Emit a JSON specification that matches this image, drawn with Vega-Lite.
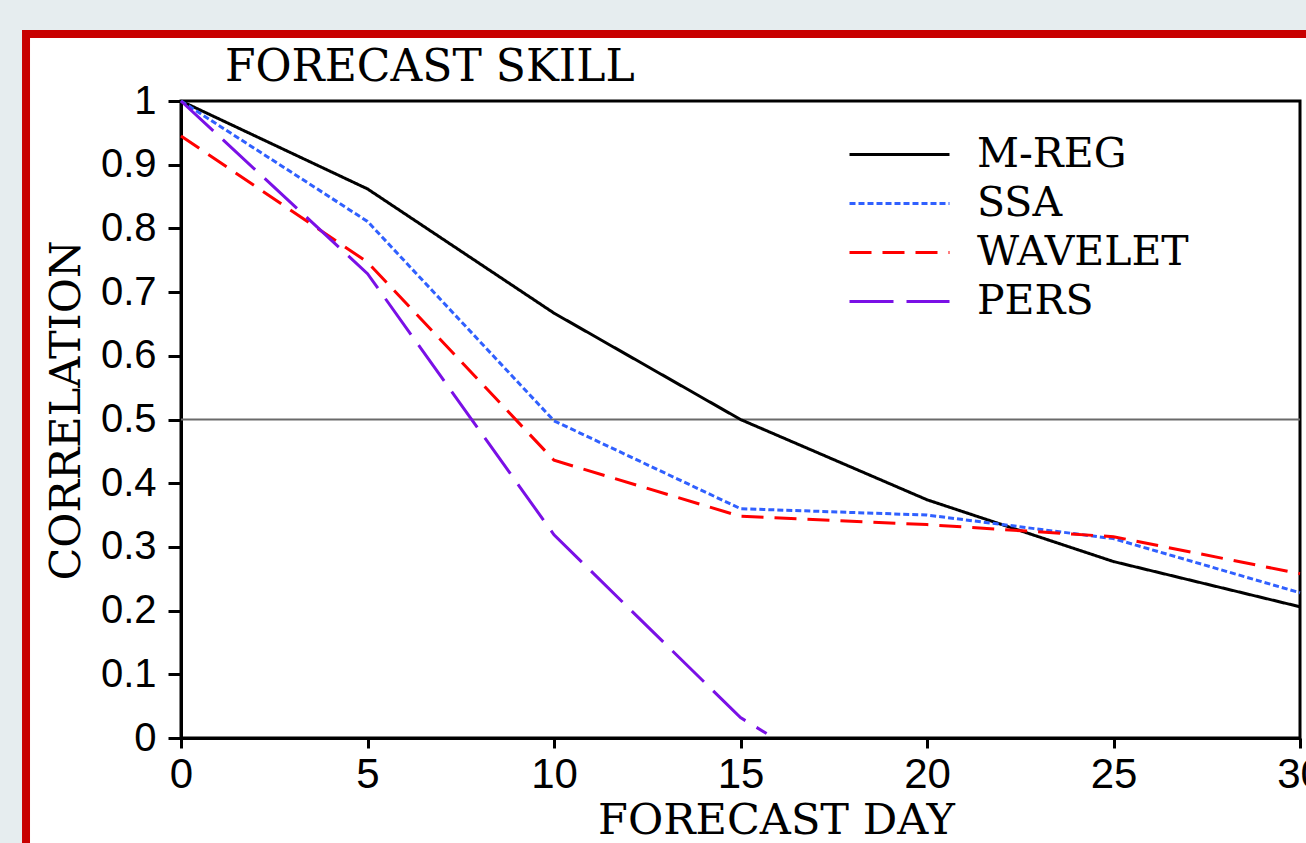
{
  "$schema": "https://vega.github.io/schema/vega-lite/v6.json",
  "width": 1119,
  "height": 637,
  "autosize": "none",
  "padding": {"left": 181, "top": 101, "right": 6, "bottom": 105},
  "background": "white",
  "title": {"text": "FORECAST SKILL", "anchor": "start", "frame": "group", "dx": 44, "dy": 155, "offset": 0, "baseline": "alphabetic", "font": "DejaVu Serif", "fontSize": 44, "fontWeight": "normal", "color": "black"},
  "layer": [
    {
      "data": {"values": [{}]},
      "mark": {"type": "rect", "fill": null, "stroke": "#e6edef", "strokeWidth": 60, "clip": false},
      "encoding": {
        "x": {"datum": -4.853, "type": "quantitative", "scale": {"domain": [0, 30], "nice": false}},
        "x2": {"datum": 40},
        "y": {"datum": 1.1586, "type": "quantitative", "scale": {"domain": [0, 1], "nice": false}},
        "y2": {"datum": -1}
      }
    },
    {
      "data": {"values": [{}]},
      "mark": {"type": "rect", "fill": null, "stroke": "#c80000", "strokeWidth": 8, "clip": false},
      "encoding": {
        "x": {"datum": -4.155, "type": "quantitative", "scale": {"domain": [0, 30], "nice": false}},
        "x2": {"datum": 40},
        "y": {"datum": 1.105, "type": "quantitative", "scale": {"domain": [0, 1], "nice": false}},
        "y2": {"datum": -1}
      }
    },
    {
      "data": {"values": [{}]},
      "mark": {"type": "rule", "color": "#6a6a6a", "strokeWidth": 2},
      "encoding": {
        "y": {"datum": 0.5, "type": "quantitative", "scale": {"domain": [0, 1], "nice": false}}
      }
    },
    {
      "data": {"values": [
        {"series": "M-REG", "day": 0, "corr": 1.0},
        {"series": "M-REG", "day": 5, "corr": 0.862},
        {"series": "M-REG", "day": 10, "corr": 0.667},
        {"series": "M-REG", "day": 15, "corr": 0.5},
        {"series": "M-REG", "day": 20, "corr": 0.374},
        {"series": "M-REG", "day": 25, "corr": 0.277},
        {"series": "M-REG", "day": 30, "corr": 0.206},
        {"series": "SSA", "day": 0, "corr": 1.0},
        {"series": "SSA", "day": 5, "corr": 0.811},
        {"series": "SSA", "day": 10, "corr": 0.498},
        {"series": "SSA", "day": 15, "corr": 0.36},
        {"series": "SSA", "day": 20, "corr": 0.35},
        {"series": "SSA", "day": 25, "corr": 0.313},
        {"series": "SSA", "day": 30, "corr": 0.228},
        {"series": "WAVELET", "day": 0, "corr": 0.945},
        {"series": "WAVELET", "day": 5, "corr": 0.747},
        {"series": "WAVELET", "day": 10, "corr": 0.436},
        {"series": "WAVELET", "day": 15, "corr": 0.348},
        {"series": "WAVELET", "day": 20, "corr": 0.335},
        {"series": "WAVELET", "day": 25, "corr": 0.316},
        {"series": "WAVELET", "day": 30, "corr": 0.258},
        {"series": "PERS", "day": 0, "corr": 1.0},
        {"series": "PERS", "day": 5, "corr": 0.729},
        {"series": "PERS", "day": 10, "corr": 0.319},
        {"series": "PERS", "day": 15, "corr": 0.032},
        {"series": "PERS", "day": 15.7, "corr": 0.007}
      ]},
      "mark": {"type": "line", "strokeWidth": 3},
      "encoding": {
        "x": {"field": "day", "type": "quantitative", "scale": {"domain": [0, 30], "nice": false},
              "axis": {"values": [0, 5, 10, 15, 20, 25, 30], "tickSize": 10, "labelFontSize": 42, "labelPadding": 6, "labelFlush": false, "title": "FORECAST DAY", "titlePadding": 4, "titleX": 595}},
        "y": {"field": "corr", "type": "quantitative", "scale": {"domain": [0, 1], "nice": false},
              "axis": {"values": [0, 0.1, 0.2, 0.3, 0.4, 0.5, 0.6, 0.7, 0.8, 0.9, 1], "format": "~g", "tickSize": 13, "labelFontSize": 40, "labelPadding": 12, "title": "CORRELATION", "titlePadding": 12, "titleY": 309}},
        "color": {"field": "series", "type": "nominal",
                  "scale": {"domain": ["M-REG", "SSA", "WAVELET", "PERS"], "range": ["black", "#3060ff", "#ff0000", "#7a10e6"]},
                  "legend": {"title": null, "orient": "none", "legendX": 692, "legendY": 27, "symbolType": "M-2,0H2", "symbolSize": 2500, "symbolStrokeWidth": 3, "labelFont": "DejaVu Serif", "labelFontSize": 41, "labelColor": "black", "labelOffset": 51, "labelLimit": 500, "rowPadding": 2}},
        "strokeDash": {"field": "series", "type": "nominal",
                  "scale": {"domain": ["M-REG", "SSA", "WAVELET", "PERS"], "range": [[1, 0], [6, 3], [22, 11], [44, 13]]},
                  "legend": {"title": null, "orient": "none", "legendX": 692, "legendY": 27, "symbolType": "M-2,0H2", "symbolSize": 2500, "symbolStrokeWidth": 3, "labelFont": "DejaVu Serif", "labelFontSize": 41, "labelColor": "black", "labelOffset": 51, "labelLimit": 500, "rowPadding": 2}}
      }
    }
  ],
  "config": {
    "view": {"stroke": "black", "strokeWidth": 3},
    "axis": {"domainColor": "black", "domainWidth": 3, "tickColor": "black", "tickWidth": 3, "labelColor": "black", "titleColor": "black", "grid": false, "labelFont": "Liberation Sans", "titleFont": "DejaVu Serif", "titleFontWeight": "normal", "titleFontSize": 43, "zindex": 1}
  }
}
